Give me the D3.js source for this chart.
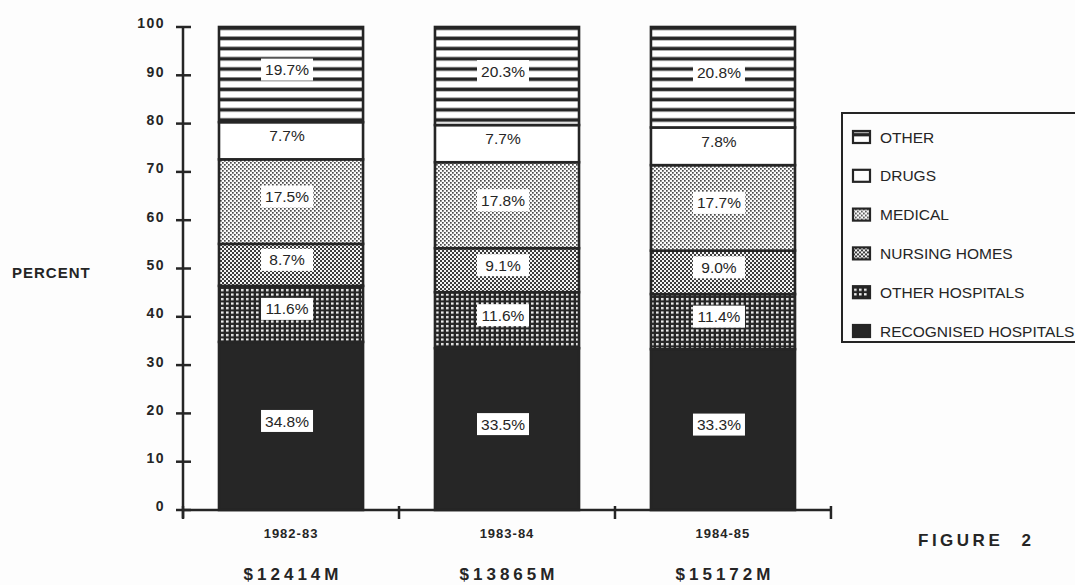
<!DOCTYPE html>
<html>
<head>
<meta charset="utf-8">
<script src="https://cdn.jsdelivr.net/npm/d3@7"></script>
<style>
  body { margin: 0; background: #fdfdfd; }
  svg { display: block; font-family: "Liberation Sans", Arial, Helvetica, sans-serif; }
</style>
</head>
<body>
<svg id="chart"></svg>
<script>
// chart size
const width = 1075, height = 585;

// data
const years = ["1982-83", "1983-84", "1984-85"];
const totals = ["$12414M", "$13865M", "$15172M"];
const categories = ["RECOGNISED HOSPITALS", "OTHER HOSPITALS", "NURSING HOMES", "MEDICAL", "DRUGS", "OTHER"];
const recognisedHospitals = [34.8, 33.5, 33.3];
const otherHospitals = [11.6, 11.6, 11.4];
const nursingHomes = [8.7, 9.1, 9.0];
const medical = [17.5, 17.8, 17.7];
const drugs = [7.7, 7.7, 7.8];
const other = [19.7, 20.3, 20.8];
const yTicks = [0, 10, 20, 30, 40, 50, 60, 70, 80, 90, 100];

const seriesValues = [recognisedHospitals, otherHospitals, nursingHomes, medical, drugs, other];

const ink = "#252525";

const svg = d3.select("#chart")
  .attr("width", width)
  .attr("height", height);

// fill patterns, one per category
const defs = svg.append("defs");

const pOther = defs.append("pattern").attr("id", "p-other")
  .attr("patternUnits", "userSpaceOnUse").attr("width", 10).attr("height", 10.2);
pOther.append("rect").attr("width", 10).attr("height", 10.2).attr("fill", "#fff");
pOther.append("rect").attr("y", 6).attr("width", 10).attr("height", 3.6).attr("fill", ink);

const pDrugs = defs.append("pattern").attr("id", "p-drugs")
  .attr("patternUnits", "userSpaceOnUse").attr("width", 4).attr("height", 4);
pDrugs.append("rect").attr("width", 4).attr("height", 4).attr("fill", "#fff");

const pMedical = defs.append("pattern").attr("id", "p-medical")
  .attr("patternUnits", "userSpaceOnUse").attr("width", 4).attr("height", 4);
pMedical.append("rect").attr("width", 4).attr("height", 4).attr("fill", "#fbfbfb");
pMedical.append("rect").attr("x", 0).attr("y", 0).attr("width", 1.7).attr("height", 1.7).attr("fill", "#4a4a4a");
pMedical.append("rect").attr("x", 2).attr("y", 2).attr("width", 1.7).attr("height", 1.7).attr("fill", "#4a4a4a");

const pNursing = defs.append("pattern").attr("id", "p-nursing")
  .attr("patternUnits", "userSpaceOnUse").attr("width", 4).attr("height", 4);
pNursing.append("rect").attr("width", 4).attr("height", 4).attr("fill", "#f4f4f4");
pNursing.append("rect").attr("x", 0).attr("y", 0).attr("width", 2).attr("height", 2).attr("fill", "#3c3c3c");
pNursing.append("rect").attr("x", 2).attr("y", 2).attr("width", 2).attr("height", 2).attr("fill", "#3c3c3c");

const pOtherHosp = defs.append("pattern").attr("id", "p-otherhosp")
  .attr("patternUnits", "userSpaceOnUse").attr("width", 5).attr("height", 4.5);
pOtherHosp.append("rect").attr("width", 5).attr("height", 4.5).attr("fill", ink);
pOtherHosp.append("rect").attr("x", 1).attr("y", 1).attr("width", 2.6).attr("height", 2.2).attr("fill", "#f2f2f2");

const fills = ["#262626", "url(#p-otherhosp)", "url(#p-nursing)", "url(#p-medical)", "url(#p-drugs)", "url(#p-other)"];

// scales
const x = d3.scaleBand()
  .domain(years)
  .range([183, 831])
  .paddingInner(0.333)
  .paddingOuter(0.1667);

const y = d3.scaleLinear()
  .domain([0, 100])
  .range([510, 27]);

// stack the series per year
const rows = years.map((yr, i) => {
  const row = { year: yr };
  categories.forEach((c, k) => { row[c] = seriesValues[k][i]; });
  return row;
});
const stacked = d3.stack().keys(categories)(rows);

// bars
const layer = svg.append("g")
  .selectAll("g")
  .data(stacked)
  .join("g")
  .attr("fill", (d, k) => fills[k]);

layer.selectAll("rect")
  .data(d => d)
  .join("rect")
  .attr("x", d => x(d.data.year))
  .attr("y", d => y(d[1]))
  .attr("width", x.bandwidth())
  .attr("height", d => y(d[0]) - y(d[1]))
  .attr("stroke", ink)
  .attr("stroke-width", 2.6);

// value labels in white boxes
const labels = svg.append("g")
  .selectAll("g")
  .data(stacked.flatMap(s => s.map(d => ({ v: d.data[s.key], mid: (d[0] + d[1]) / 2, year: d.data.year }))))
  .join("g")
  .attr("transform", d => `translate(${x(d.year) + x.bandwidth() / 2 - 4},${y(d.mid) - 5})`);

labels.append("rect")
  .attr("x", -26).attr("y", -11)
  .attr("width", 52).attr("height", 22)
  .attr("fill", "#fff");

labels.append("text")
  .attr("text-anchor", "middle")
  .attr("dy", "0.36em")
  .attr("font-size", 15.5)
  .attr("fill", ink)
  .text(d => d.v.toFixed(1) + "%");

// y axis
const yAxis = svg.append("g").attr("transform", "translate(183,0)");
yAxis.append("line")
  .attr("y1", y(100)).attr("y2", y(0) + 8)
  .attr("stroke", ink).attr("stroke-width", 2.5);
yAxis.selectAll("line.tick")
  .data(yTicks)
  .join("line")
  .attr("class", "tick")
  .attr("x1", -7).attr("x2", 8)
  .attr("y1", d => y(d)).attr("y2", d => y(d))
  .attr("stroke", ink).attr("stroke-width", 2.5);
yAxis.selectAll("text")
  .data(yTicks)
  .join("text")
  .attr("x", -18)
  .attr("y", d => y(d))
  .attr("dy", "0.1em")
  .attr("text-anchor", "end")
  .attr("font-size", 14)
  .attr("font-weight", "bold")
  .attr("letter-spacing", 1.5)
  .attr("fill", ink)
  .text(d => d);

svg.append("text")
  .attr("x", 12).attr("y", 278)
  .attr("font-size", 15)
  .attr("font-weight", "bold")
  .attr("letter-spacing", 1)
  .attr("fill", ink)
  .text("PERCENT");

// x axis, ticks at the band boundaries
const gap = (x.step() - x.bandwidth()) / 2;
const xTicks = [183].concat(years.map(yr => x(yr) + x.bandwidth() + gap));
svg.append("line")
  .attr("x1", 183).attr("x2", xTicks[xTicks.length - 1])
  .attr("y1", y(0)).attr("y2", y(0))
  .attr("stroke", ink).attr("stroke-width", 2.5);
svg.append("g")
  .selectAll("line")
  .data(xTicks)
  .join("line")
  .attr("x1", d => d).attr("x2", d => d)
  .attr("y1", y(0) - 4).attr("y2", y(0) + 9)
  .attr("stroke", ink).attr("stroke-width", 2.5);

svg.append("g")
  .selectAll("text")
  .data(years)
  .join("text")
  .attr("x", d => x(d) + x.bandwidth() / 2)
  .attr("y", 538)
  .attr("text-anchor", "middle")
  .attr("font-size", 13)
  .attr("font-weight", "bold")
  .attr("letter-spacing", 1)
  .attr("fill", ink)
  .text(d => d);

svg.append("g")
  .selectAll("text")
  .data(totals)
  .join("text")
  .attr("x", (d, i) => x(years[i]) + x.bandwidth() / 2 + 2)
  .attr("y", 580)
  .attr("text-anchor", "middle")
  .attr("font-size", 17)
  .attr("font-weight", "bold")
  .attr("letter-spacing", 4)
  .attr("fill", ink)
  .text(d => d);

svg.append("text")
  .attr("x", 918).attr("y", 546)
  .attr("font-size", 17)
  .attr("font-weight", "bold")
  .attr("letter-spacing", 3.5)
  .attr("word-spacing", 10)
  .attr("fill", ink)
  .text("FIGURE 2");

// legend
const legend = svg.append("g");
legend.append("rect")
  .attr("x", 842).attr("y", 113)
  .attr("width", 260).attr("height", 229)
  .attr("fill", "none")
  .attr("stroke", ink).attr("stroke-width", 2);

const legendOrder = categories.map((c, k) => ({ name: c, fill: fills[k] })).reverse();
const item = legend.selectAll("g")
  .data(legendOrder)
  .join("g")
  .attr("transform", (d, i) => `translate(853,${137 + i * 38.8})`);

item.append("rect")
  .attr("x", 0).attr("y", -6)
  .attr("width", 17).attr("height", 12)
  .attr("fill", d => d.fill)
  .attr("stroke", ink).attr("stroke-width", 2.2);

item.append("text")
  .attr("x", 27)
  .attr("dy", "0.36em")
  .attr("font-size", 15.5)
  .attr("fill", ink)
  .text(d => d.name);
</script>
</body>
</html>
